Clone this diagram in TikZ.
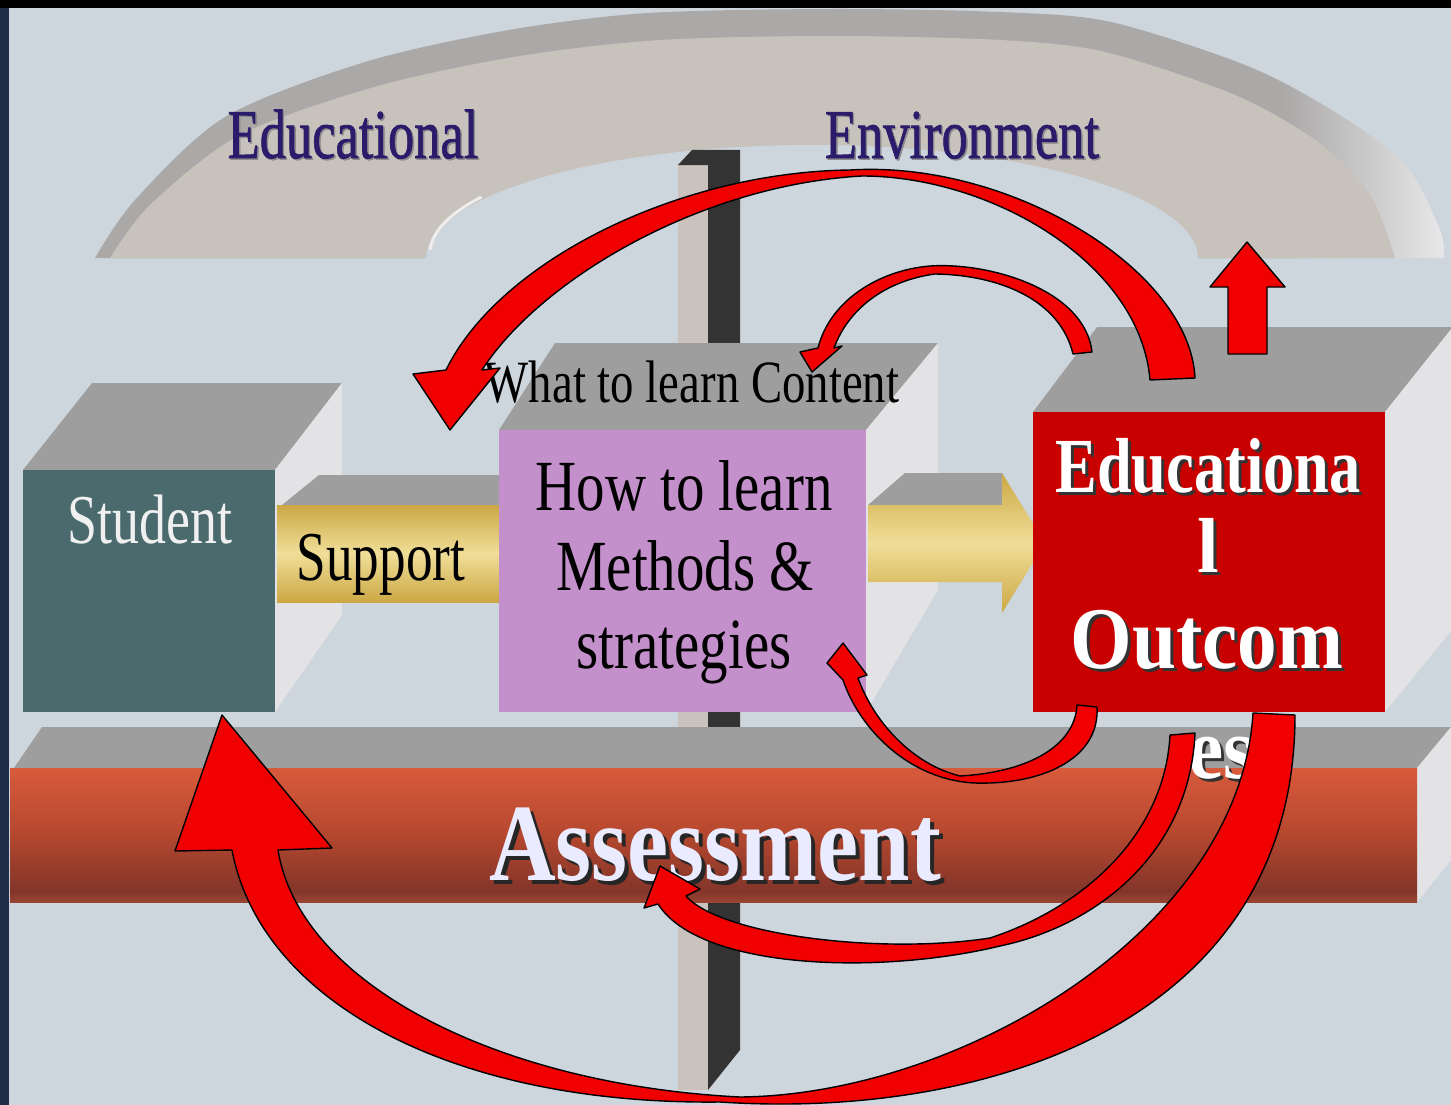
\documentclass[tikz,border=0pt]{standalone}
\usepackage{fontspec}
\setmainfont{Liberation Serif}
\newfontfamily\semibold[FakeBold=1.2]{Liberation Serif}
\usepackage{graphicx}
\definecolor{bgc}{HTML}{CDD5DD}
\definecolor{navyedge}{HTML}{1F2B47}
\definecolor{archband}{HTML}{ABA9A8}
\definecolor{archhi}{HTML}{E8E8EA}
\definecolor{archface}{HTML}{C8C2BD}
\definecolor{topgrey}{HTML}{9E9E9E}
\definecolor{sidegrey}{HTML}{E3E3E5}
\definecolor{tealbox}{HTML}{4A6A6D}
\definecolor{lilac}{HTML}{C490CB}
\definecolor{boxred}{HTML}{C90000}
\definecolor{arrred}{HTML}{F00000}
\definecolor{goldA}{HTML}{CBA844}
\definecolor{goldB}{HTML}{F0DE98}
\definecolor{navytxt}{HTML}{2B1B6B}
\definecolor{polelight}{HTML}{C9C2BD}
\definecolor{poledark}{HTML}{333333}
\definecolor{asA}{HTML}{D85A3C}
\definecolor{asB}{HTML}{B8492F}
\definecolor{asC}{HTML}{83352A}
\definecolor{asD}{HTML}{9A4434}
\pgfdeclareverticalshading{assessshade}{100bp}{color(0bp)=(asD); color(25bp)=(asD); color(29bp)=(asC); color(52bp)=(asB); color(75bp)=(asA); color(100bp)=(asA)}
\pgfdeclarehorizontalshading{archshade}{100bp}{color(0bp)=(archband); color(69bp)=(archband); color(75bp)=(archhi); color(100bp)=(archhi)}
\newcommand{\hsq}[2]{\scalebox{#1}[1]{#2}}
\tikzset{
  redarrow/.style={fill=arrred, draw=black, line width=1.4pt, line join=round},
  lbl/.style={anchor=base, inner sep=0pt, outer sep=0pt},
  goldbar/.style={top color=goldA, bottom color=goldA, middle color=goldB},
}
\begin{document}
\begin{tikzpicture}[x=1pt,y=-1pt]
\useasboundingbox (0,0) rectangle (1451,1105);
% frame and background
\fill[black] (0,0) rectangle (1451,1105);
\fill[navyedge] (0,8) rectangle (9,1105);
\fill[bgc] (9,8) rectangle (1451,1105);

% arch (educational environment)
\shade[shading=archshade] plot[smooth] coordinates {(95,258) (135,200) (225,117) (365,62) (509,30) (648,13) (833,9) (1000,12) (1111,22) (1250,67) (1343,117) (1407,167) (1440,230) (1444,258)} -- cycle;
\fill[archface] plot[smooth] coordinates {(110,258) (150,205) (240,135) (378,86) (520,56) (660,40) (833,36) (1000,40) (1105,52) (1235,95) (1318,142) (1370,195) (1395,258)} -- cycle;
\fill[bgc] (1198,259) arc[start angle=0, end angle=-180, x radius=386, y radius=114] -- cycle;
\draw[white!70!archface, line width=3pt] (430,250) arc[start angle=-178, end angle=-150, x radius=386, y radius=114];

% pole
\fill[polelight] (678,165) rectangle (708,1090);
\fill[poledark] (678,165) -- (692,150) -- (740,150) -- (740,1050) -- (708,1090) -- (708,165) -- cycle;

% student box
\fill[topgrey] (23,470) -- (92,383) -- (342,383) -- (275,470) -- cycle;
\fill[sidegrey] (275,470) -- (342,383) -- (342,615) -- (275,712) -- cycle;
\fill[tealbox] (23,470) rectangle (275,712);

% support bar
\fill[topgrey] (282,505) -- (319,475) -- (499,475) -- (499,505) -- cycle;
\shade[goldbar] (277,505) rectangle (499,602);

% how-to-learn box
\fill[topgrey] (499,430) -- (555,343) -- (938,343) -- (866,430) -- cycle;
\fill[sidegrey] (866,430) -- (938,343) -- (938,590) -- (866,712) -- cycle;
\fill[lilac] (499,430) rectangle (866,712);

% gold arrow to outcome
\fill[topgrey] (868,505) -- (905,473) -- (1002,473) -- (1002,505) -- cycle;
\shade[goldbar] (868,505) -- (1002,505) -- (1002,473) -- (1045,543) -- (1002,613) -- (1002,582) -- (868,582) -- cycle;

% outcome box
\fill[topgrey] (1033,412) -- (1097,327) -- (1460,327) -- (1460,318) -- (1385,412) -- cycle;
\fill[sidegrey] (1385,412) -- (1460,318) -- (1460,620) -- (1385,712) -- cycle;
\fill[boxred] (1033,412) rectangle (1385,712);

% assessment bar
\fill[topgrey] (14,768) -- (42,727) -- (1451,727) -- (1417,768) -- cycle;
\fill[sidegrey] (1417,768) -- (1451,727) -- (1451,860) -- (1417,902) -- cycle;
\shade[shading=assessshade] (10,768) rectangle (1417,902);

% texts
\node[lbl, text=black!45] (sEdu) at (354.5,159.5) {\fontsize{70}{80}\selectfont\semibold\hsq{0.75}{Educational}};
\node[lbl, text=navytxt] (tEdu) at (353,158) {\fontsize{70}{80}\selectfont\semibold\hsq{0.75}{Educational}};
\node[lbl, text=black!45] (sEnv) at (963.5,159.5) {\fontsize{70}{80}\selectfont\semibold\hsq{0.75}{Environment}};
\node[lbl, text=navytxt] (tEnv) at (962,158) {\fontsize{70}{80}\selectfont\semibold\hsq{0.75}{Environment}};
\node[lbl, text=white!94!black] (tStu) at (150,543) {\fontsize{70}{80}\selectfont\hsq{0.77}{Student}};
\node[lbl, text=black] (tSup) at (381,580) {\fontsize{70}{80}\selectfont\hsq{0.76}{Support}};
\node[lbl, text=black] (tWhat) at (692,402) {\fontsize{60}{70}\selectfont\hsq{0.78}{What to learn Content}};
\node[lbl, text=black] (tHow1) at (684,510) {\fontsize{72}{80}\selectfont\hsq{0.79}{How to learn}};
\node[lbl, text=black] (tHow2) at (685,590) {\fontsize{72}{80}\selectfont\hsq{0.79}{Methods \&}};
\node[lbl, text=black] (tHow3) at (684,668) {\fontsize{72}{80}\selectfont\hsq{0.79}{strategies}};
% outcome text with shadow
\node[lbl, text=black!80] (sOut1) at (1211,495) {\fontsize{78}{86}\selectfont\bfseries\hsq{0.8}{Educationa}};
\node[lbl, text=white] (tOut1) at (1208,492) {\fontsize{78}{86}\selectfont\bfseries\hsq{0.8}{Educationa}};
\node[lbl, text=black!80] (sOut2) at (1211,575) {\fontsize{78}{86}\selectfont\bfseries l};
\node[lbl, text=white] (tOut2) at (1208,572) {\fontsize{78}{86}\selectfont\bfseries l};
\node[lbl, text=black!80] (sOut3) at (1210,671) {\fontsize{88}{96}\selectfont\bfseries\hsq{0.9}{Outcom}};
\node[lbl, text=white] (tOut3) at (1207,668) {\fontsize{88}{96}\selectfont\bfseries\hsq{0.9}{Outcom}};
\node[lbl, text=black!80] (sOut4) at (1224,781) {\fontsize{88}{96}\selectfont\bfseries\hsq{0.9}{es}};
\node[lbl, text=white] (tOut4) at (1221,778) {\fontsize{88}{96}\selectfont\bfseries\hsq{0.9}{es}};
% assessment text with shadow
\node[lbl, text=black!85] (sAss) at (719,884) {\fontsize{110}{120}\selectfont\bfseries\hsq{0.84}{Assessment}};
\node[lbl, text=white!92!blue] (tAss) at (715,880) {\fontsize{110}{120}\selectfont\bfseries\hsq{0.84}{Assessment}};

% red arrows
% a: outcome top -> student side (big top loop)
\filldraw[redarrow] (1195,378) .. controls (1190,270) and (1010,160) .. (850,170)
  .. controls (680,172) and (500,260) .. (446,370)
  -- (413,374) -- (450,430) -- (500,368) -- (482,370)
  .. controls (540,280) and (700,185) .. (862,176)
  .. controls (990,176) and (1140,262) .. (1150,380) -- cycle;
% b: outcome top -> content
\filldraw[redarrow] (1092,352) .. controls (1085,290) and (990,262) .. (930,266)
  .. controls (880,270) and (830,300) .. (818,348)
  -- (800,352) -- (812,372) -- (842,346) -- (834,348)
  .. controls (850,305) and (890,280) .. (935,274)
  .. controls (1000,275) and (1060,300) .. (1073,354) -- cycle;
% c: outcome bottom -> strategies
\filldraw[redarrow] (1097,707) .. controls (1100,760) and (1040,785) .. (975,783)
  .. controls (910,780) and (860,730) .. (843,680)
  -- (827,663) -- (843,643) -- (867,675) -- (858,678)
  .. controls (875,725) and (915,765) .. (960,776)
  .. controls (1030,772) and (1075,745) .. (1077,705) -- cycle;
% d: outcome -> assessment
\filldraw[redarrow] (1195,733) .. controls (1190,850) and (1100,925) .. (1000,946)
  .. controls (880,975) and (700,970) .. (658,904)
  -- (644,908) -- (660,866) -- (700,889) -- (686,896)
  .. controls (720,935) and (880,955) .. (990,938)
  .. controls (1090,905) and (1165,830) .. (1170,735) -- cycle;
% e: outcome bottom -> student (big bottom loop)
\filldraw[redarrow] (1295,715) .. controls (1295,1020) and (990,1120) .. (720,1102)
  .. controls (450,1105) and (260,1000) .. (232,850)
  -- (175,851) -- (222,715) -- (332,848) -- (278,850)
  .. controls (300,985) and (500,1085) .. (740,1097)
  .. controls (960,1095) and (1240,930) .. (1253,713) -- cycle;
% f: straight up arrow
\filldraw[redarrow] (1228,354) -- (1228,287) -- (1210,287) -- (1247,242) -- (1285,287) -- (1267,287) -- (1267,354) -- cycle;
\end{tikzpicture}
\end{document}
